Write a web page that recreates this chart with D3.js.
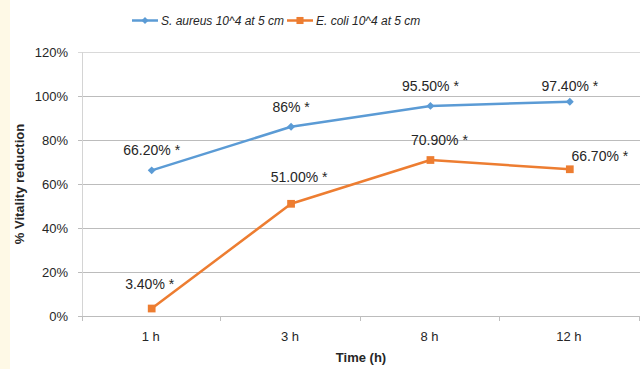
<!DOCTYPE html>
<html>
<head>
<meta charset="utf-8">
<script src="https://cdn.jsdelivr.net/npm/d3@7"></script>
<style>
  body { margin: 0; background: #fff; }
  text { font-family: "Liberation Sans", Arial, sans-serif; fill: #262626; }
</style>
</head>
<body>
<svg id="chart" width="640" height="369"></svg>
<script>
// categories and series values
var times = ["1 h", "3 h", "8 h", "12 h"];
var aureus = [66.2, 86, 95.5, 97.4];
var coli = [3.4, 51.0, 70.9, 66.7];
var aureusLabels = ["66.20% *", "86% *", "95.50% *", "97.40% *"];
var coliLabels = ["3.40% *", "51.00% *", "70.90% *", "66.70% *"];
var yTicks = [0, 20, 40, 60, 80, 100, 120];

// label nudges (layout only) [dx, dy] from the point
var aureusNudge = [[0, -20], [0, -20], [0, -20], [0, -16]];
var coliNudge = [[-2, -24], [8, -27], [9, -20], [30, -13]];

var svg = d3.select("#chart");
var margin = { left: 82, right: 0, top: 52, bottom: 53 };
var W = 640, H = 369;

// cream strip at the left edge
svg.append("rect").attr("x", 0).attr("y", 0).attr("width", 10).attr("height", H).attr("fill", "#FEF9E6");

var x = d3.scaleBand().domain(times).range([margin.left, 639.5]);
var y = d3.scaleLinear().domain([0, 120]).range([H - margin.bottom, margin.top]);

// gridlines
svg.append("g").selectAll("line").data(yTicks).join("line")
  .attr("x1", margin.left - 4).attr("x2", W)
  .attr("y1", d => Math.round(y(d)) + 0.5).attr("y2", d => Math.round(y(d)) + 0.5)
  .attr("stroke", d => d === 120 ? "#D9D9D9" : "#BCBCBC").attr("stroke-width", 1);

// y axis line
svg.append("line").attr("x1", margin.left + 0.5).attr("x2", margin.left + 0.5)
  .attr("y1", y(120)).attr("y2", y(0)).attr("stroke", "#D4D4D4");

// y tick labels
svg.append("g").selectAll("text").data(yTicks).join("text")
  .attr("x", 68).attr("y", d => y(d)).attr("dy", "0.35em")
  .attr("text-anchor", "end").style("font-size", "13px")
  .text(d => d + "%");

// x axis ticks
var xTickPos = times.map(t => x(t) + x.bandwidth());
svg.append("g").selectAll("line").data(xTickPos).join("line")
  .attr("x1", d => Math.round(d) - 0.5).attr("x2", d => Math.round(d) - 0.5)
  .attr("y1", y(0)).attr("y2", y(0) + 5).attr("stroke", "#BFBFBF");
svg.append("line").attr("x1", margin.left + 0.5).attr("x2", margin.left + 0.5)
  .attr("y1", y(0)).attr("y2", y(0) + 5).attr("stroke", "#BFBFBF");

svg.append("g").selectAll("text").data(times).join("text")
  .attr("x", d => x(d) + x.bandwidth() / 2 - 1).attr("y", 341)
  .attr("text-anchor", "middle").style("font-size", "13px")
  .text(d => d);

// axis titles
svg.append("text").attr("x", 361).attr("y", 362).attr("text-anchor", "middle")
  .style("font-size", "13px").style("font-weight", "bold").text("Time (h)");
svg.append("text").attr("transform", "translate(24,184) rotate(-90)")
  .attr("text-anchor", "middle").style("font-size", "13px").style("font-weight", "bold")
  .text("% Vitality reduction");

var cx = d => x(d) + x.bandwidth() / 2;
var line = d3.line().x((d, i) => cx(times[i])).y(d => y(d));

function drawSeries(vals, labels, nudge, color, symbol, size) {
  svg.append("path").datum(vals).attr("d", line)
    .attr("fill", "none").attr("stroke", color).attr("stroke-width", 2.5)
    .attr("stroke-linejoin", "round");
  svg.append("g").selectAll("path").data(vals).join("path")
    .attr("d", d3.symbol().type(symbol).size(size))
    .attr("transform", (d, i) => "translate(" + cx(times[i]) + "," + y(d) + ")")
    .attr("fill", color);
  svg.append("g").selectAll("text").data(vals).join("text")
    .attr("x", (d, i) => cx(times[i]) + nudge[i][0])
    .attr("y", (d, i) => y(d) + nudge[i][1])
    .attr("dy", "0.35em").attr("text-anchor", "middle")
    .style("font-size", "14px")
    .text((d, i) => labels[i]);
}

drawSeries(aureus, aureusLabels, aureusNudge, "#5B9BD5", d3.symbolDiamond2, 40);
drawSeries(coli, coliLabels, coliNudge, "#ED7D31", d3.symbolSquare, 60);

// legend
var legend = [
  { name: "S. aureus 10^4 at 5 cm", color: "#5B9BD5", sym: d3.symbolDiamond2, size: 32, x: 132 },
  { name: "E. coli 10^4 at 5 cm", color: "#ED7D31", sym: d3.symbolSquare, size: 50, x: 287 }
];
var lg = svg.append("g").selectAll("g").data(legend).join("g")
  .attr("transform", d => "translate(" + d.x + ",20.5)");
lg.append("line").attr("x1", 0).attr("x2", 26).attr("stroke", d => d.color).attr("stroke-width", 2.5);
lg.append("path").attr("d", d => d3.symbol().type(d.sym).size(d.size)()).attr("transform", "translate(13,0)")
  .attr("fill", d => d.color);
lg.append("text").attr("x", 29).attr("dy", "0.35em").style("font-size", "12px")
  .style("font-style", "italic").text(d => d.name);
</script>
</body>
</html>
